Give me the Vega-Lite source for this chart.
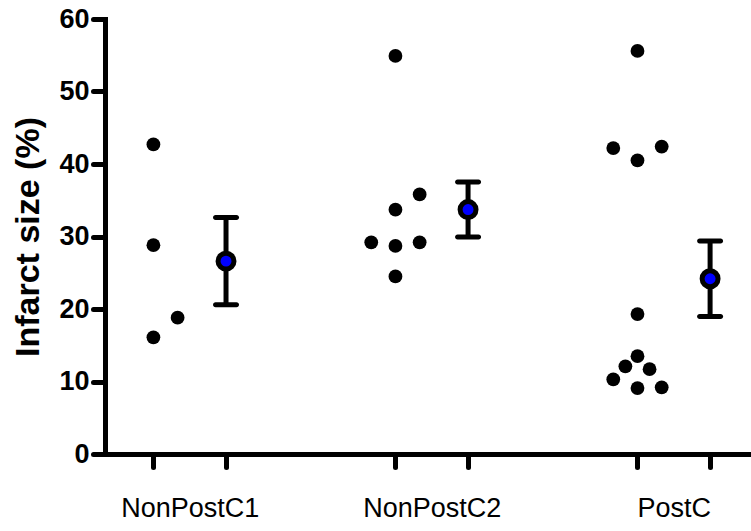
{
  "$schema": "https://vega.github.io/schema/vega-lite/v6.json",
  "width": 646,
  "height": 435,
  "autosize": {"type": "none"},
  "padding": {"left": 105, "top": 19, "right": 0, "bottom": 77},
  "background": "white",
  "config": {
    "view": {"stroke": null},
    "font": "Liberation Sans",
    "axis": {
      "grid": false,
      "domainColor": "black",
      "domainWidth": 5,
      "domainCap": "square",
      "tickColor": "black",
      "tickWidth": 5,
      "tickCap": "round",
      "labelColor": "black",
      "labelFont": "Liberation Sans",
      "titleColor": "black",
      "titleFont": "Liberation Sans"
    }
  },
  "data": {
    "values": [
      {"group": "NonPostC1", "value": 42.7, "lane": 0},
      {"group": "NonPostC1", "value": 28.8, "lane": 0},
      {"group": "NonPostC1", "value": 18.8, "lane": 1},
      {"group": "NonPostC1", "value": 16.1, "lane": 0},
      {"group": "NonPostC2", "value": 54.9, "lane": 0},
      {"group": "NonPostC2", "value": 35.8, "lane": 1},
      {"group": "NonPostC2", "value": 33.7, "lane": 0},
      {"group": "NonPostC2", "value": 29.2, "lane": -1},
      {"group": "NonPostC2", "value": 28.7, "lane": 0},
      {"group": "NonPostC2", "value": 29.2, "lane": 1},
      {"group": "NonPostC2", "value": 24.5, "lane": 0},
      {"group": "PostC", "value": 55.6, "lane": 0},
      {"group": "PostC", "value": 42.2, "lane": -1},
      {"group": "PostC", "value": 42.4, "lane": 1},
      {"group": "PostC", "value": 40.5, "lane": 0},
      {"group": "PostC", "value": 19.3, "lane": 0},
      {"group": "PostC", "value": 13.5, "lane": 0},
      {"group": "PostC", "value": 12.1, "lane": -0.5},
      {"group": "PostC", "value": 11.7, "lane": 0.5},
      {"group": "PostC", "value": 10.3, "lane": -1},
      {"group": "PostC", "value": 9.1, "lane": 0},
      {"group": "PostC", "value": 9.2, "lane": 1}
    ]
  },
  "transform": [
    {"calculate": "indexof(['NonPostC1', 'NonPostC2', 'PostC'], datum.group) * 10", "as": "base"},
    {"calculate": "datum.base + 2 + datum.lane", "as": "dotX"},
    {"calculate": "datum.base + 5", "as": "meanX"}
  ],
  "layer": [
    {
      "mark": {"type": "circle", "size": 190, "color": "black", "opacity": 1},
      "encoding": {
        "x": {
          "field": "dotX",
          "type": "quantitative",
          "title": null,
          "scale": {"domain": [0, 26.69], "nice": false, "zero": false},
          "axis": {
            "values": [2, 3.5, 5, 12, 13.5, 15, 22, 23.5, 25],
            "labelExpr": "datum.value == 3.5 ? 'NonPostC1' : datum.value == 13.5 ? 'NonPostC2' : datum.value == 23.5 ? 'PostC' : ''",
            "tickOpacity": {"condition": {"test": "datum.value == 3.5 || datum.value == 13.5 || datum.value == 23.5", "value": 0}, "value": 1},
            "tickSize": 13,
            "labelFontSize": 27,
            "labelFontWeight": "normal",
            "labelPadding": 28,
            "labelFlush": false,
            "labelOverlap": false,
            "labelBound": false
          }
        },
        "y": {
          "field": "value",
          "type": "quantitative",
          "title": "Infarct size (%)",
          "scale": {"domain": [0, 60], "nice": false},
          "axis": {
            "values": [0, 10, 20, 30, 40, 50, 60],
            "tickSize": 12,
            "labelFontSize": 27,
            "labelFontWeight": "bold",
            "labelPadding": 4,
            "titleFontSize": 34,
            "titleFontWeight": "bold",
            "titlePadding": 13
          }
        }
      }
    },
    {
      "mark": {
        "type": "errorbar",
        "extent": "stderr",
        "orient": "vertical",
        "color": "black",
        "ticks": {"size": 26, "thickness": 5, "color": "black", "opacity": 1, "cornerRadius": 2.5},
        "rule": {"strokeWidth": 5, "color": "black", "opacity": 1}
      },
      "encoding": {
        "x": {"field": "meanX", "type": "quantitative", "title": null},
        "y": {"field": "value", "type": "quantitative", "title": "Infarct size (%)"}
      }
    },
    {
      "mark": {"type": "point", "shape": "circle", "filled": false, "fill": "#0000ff", "fillOpacity": 1, "stroke": "black", "strokeWidth": 5, "size": 254, "opacity": 1},
      "encoding": {
        "x": {"field": "meanX", "type": "quantitative", "title": null},
        "y": {"aggregate": "mean", "field": "value", "type": "quantitative", "title": "Infarct size (%)"}
      }
    }
  ]
}
